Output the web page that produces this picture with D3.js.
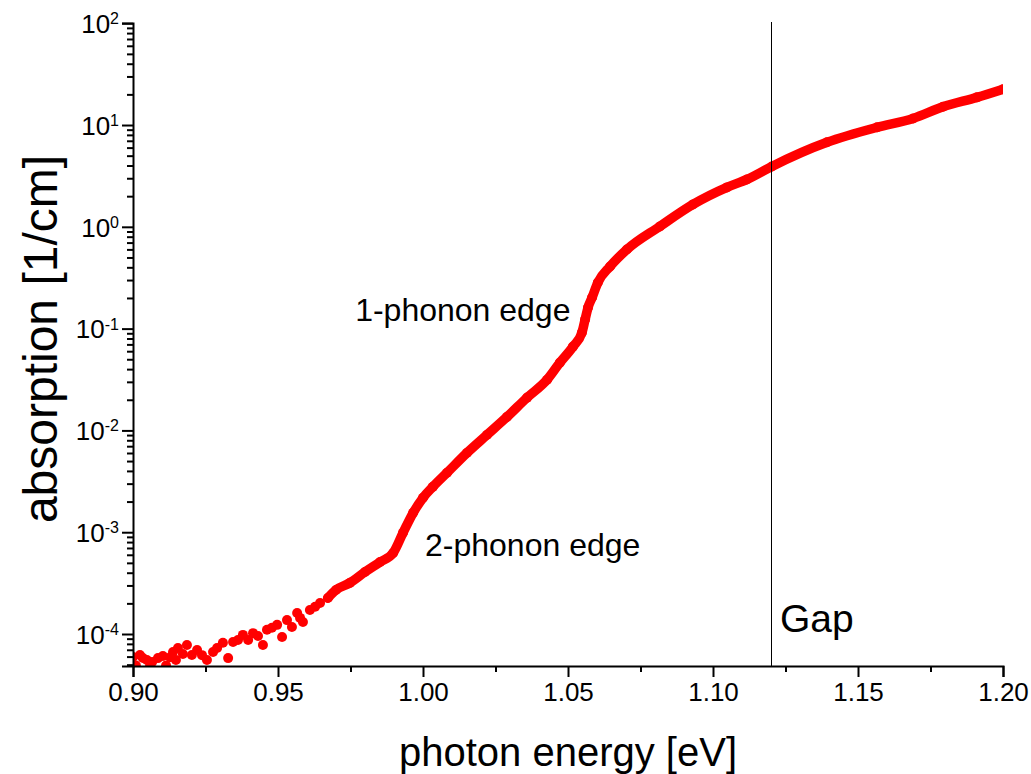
<!DOCTYPE html>
<html>
<head>
<meta charset="utf-8">
<script src="https://cdn.jsdelivr.net/npm/d3@7"></script>
<style>
  body { margin: 0; background: #fff; }
  text { font-family: "Liberation Sans", Arial, sans-serif; fill: #000; }
</style>
</head>
<body>
<script>
// photon energy [eV] and absorption [1/cm]
var energy = [
  0.9000, 0.9010, 0.9024, 0.9034, 0.9048, 0.9059, 0.9066, 0.9086, 0.9103, 0.9114,
  0.9128, 0.9138, 0.9148, 0.9155, 0.9172, 0.9186, 0.9203, 0.9221, 0.9238, 0.9255,
  0.9276, 0.9290, 0.9310, 0.9328, 0.9345, 0.9362, 0.9379, 0.9397, 0.9414, 0.9431,
  0.9448, 0.9462, 0.9479, 0.9497, 0.9514, 0.9531, 0.9548, 0.9566, 0.9576, 0.9586,
  0.9610, 0.9628, 0.9645, 0.9672, 0.9700, 0.9748, 0.9800, 0.9852, 0.9897, 0.9931,
  0.9966, 1.0000, 1.0034, 1.0083, 1.0152, 1.0221, 1.0290, 1.0359, 1.0428, 1.0472,
  1.0517, 1.0548, 1.0559, 1.0569, 1.0583, 1.0603, 1.0645, 1.0703, 1.0817, 1.0931,
  1.1048, 1.1117, 1.1203, 1.1393, 1.1566, 1.1690, 1.1793, 1.1910, 1.2000
];
var absorption = [
  5.94e-5, 4.9e-5, 6.22e-5, 5.81e-5, 5.55e-5, 4.9e-5, 5.31e-5, 5.8e-5, 6.08e-5, 4.9e-5,
  5.9e-5, 6.65e-5, 5.55e-5, 7.3e-5, 6.37e-5, 7.8e-5, 6.22e-5, 6.97e-5, 6.2e-5, 5.55e-5,
  6.65e-5, 7.3e-5, 8.2e-5, 5.8e-5, 8.35e-5, 8.73e-5, 9.8e-5, 8.73e-5, 1.02e-4, 9.55e-5,
  7.8e-5, 1.10e-4, 1.15e-4, 1.23e-4, 9.35e-5, 1.37e-4, 1.17e-4, 1.61e-4, 1.44e-4, 1.31e-4,
  1.72e-4, 1.85e-4, 2.02e-4, 2.26e-4, 2.71e-4, 3.18e-4, 4.07e-4, 5.1e-4, 6.26e-4, 9.86e-4,
  1.55e-3, 2.18e-3, 2.79e-3, 3.84e-3, 6.03e-3, 9.06e-3, 1.36e-2, 2.10e-2, 3.15e-2, 4.63e-2,
  6.65e-2, 9.14e-2, 0.123, 0.161, 0.202, 0.284, 0.408, 0.598, 1.01, 1.66,
  2.44, 2.92, 3.92, 6.76, 9.49, 11.6, 15.1, 18.7, 22.5
];

var xTicks = [0.90, 0.95, 1.00, 1.05, 1.10, 1.15, 1.20];
var xMinor = [0.925, 0.975, 1.025, 1.075, 1.125, 1.175];
var yExp = [-4, -3, -2, -1, 0, 1, 2];
var gapEnergy = 1.12;
var labels = [
  { text: "1-phonon edge", e: 0.9766, a: 0.12, size: 32 },
  { text: "2-phonon edge", e: 1.0007, a: 5.9e-4, size: 32 },
  { text: "Gap", e: 1.1231, a: 1.035e-4, size: 39 }
];

var W = 1031, H = 774;
var margin = { top: 23, right: 28, bottom: 108, left: 133 };
var w = W - margin.left - margin.right;
var h = H - margin.top - margin.bottom;

var svg = d3.select("body").append("svg")
  .attr("width", W)
  .attr("height", H);

var g = svg.append("g")
  .attr("transform", "translate(" + margin.left + "," + margin.top + ")");

var x = d3.scaleLinear().domain([0.90, 1.20]).range([0, w]);
var y = d3.scaleLog().domain([4.85e-5, 100.5]).range([h, 0]);

var data = energy.map(function(e, i) { return { e: e, a: absorption[i] }; });

svg.append("defs").append("clipPath").attr("id", "plot")
  .append("rect").attr("width", w).attr("height", h);

var plot = g.append("g").attr("clip-path", "url(#plot)");

// smooth part drawn as a thick line of overlapping dots
var smooth = data.filter(function(d) { return d.e >= 0.965; });
plot.append("path")
  .datum(smooth)
  .attr("fill", "none")
  .attr("stroke", "#ff0000")
  .attr("stroke-width", 9.5)
  .attr("stroke-linejoin", "round")
  .attr("stroke-linecap", "round")
  .attr("d", d3.line()
    .x(function(d) { return x(d.e); })
    .y(function(d) { return y(d.a); })
    .curve(d3.curveMonotoneX));

plot.selectAll("circle")
  .data(data)
  .enter()
  .append("circle")
  .attr("cx", function(d) { return x(d.e); })
  .attr("cy", function(d) { return y(d.a); })
  .attr("r", 5)
  .attr("fill", "#ff0000");

// gap line
g.append("line")
  .attr("x1", Math.round(x(gapEnergy)) + 0.5).attr("x2", Math.round(x(gapEnergy)) + 0.5)
  .attr("y1", -1).attr("y2", h)
  .attr("stroke", "#000")
  .attr("stroke-width", 1)
  .attr("shape-rendering", "crispEdges");

// x axis
var xAxis = g.append("g")
  .attr("transform", "translate(0," + h + ")")
  .call(d3.axisBottom(x).tickValues(xTicks).tickFormat(d3.format(".2f")).tickSize(11).tickPadding(6));
g.append("g")
  .attr("transform", "translate(0," + h + ")")
  .call(d3.axisBottom(x).tickValues(xMinor).tickFormat("").tickSize(6))
  .select(".domain").remove();

// y axis
var yMinor = [];
for (var k = -5; k <= 1; k++) {
  for (var m = 2; m <= 9; m++) {
    var v = m * Math.pow(10, k);
    if (v >= 4.85e-5 && v <= 100) yMinor.push(v);
  }
}
var yAxis = g.append("g")
  .call(d3.axisLeft(y).tickValues(yExp.map(function(p) { return Math.pow(10, p); }))
    .tickFormat("").tickSize(11));
g.append("g")
  .call(d3.axisLeft(y).tickValues(yMinor).tickFormat("").tickSize(6))
  .select(".domain").remove();

yAxis.selectAll(".tick").each(function(d) {
  var t = d3.select(this).append("text")
    .attr("x", -14)
    .attr("dy", "0.36em")
    .attr("text-anchor", "end")
    .attr("font-size", 26);
  t.append("tspan").text("10");
  t.append("tspan")
    .attr("dy", "-0.55em")
    .attr("font-size", 16)
    .text(Math.round(Math.log10(d)));
});

g.selectAll(".domain, .tick line")
  .attr("stroke", "#000")
  .attr("stroke-width", 2);
xAxis.selectAll(".tick text")
  .attr("font-size", 26)
  .attr("font-family", "Liberation Sans, Arial, sans-serif");

// axis titles
svg.append("text")
  .attr("x", margin.left + w / 2)
  .attr("y", 766)
  .attr("text-anchor", "middle")
  .attr("font-size", 40)
  .text("photon energy [eV]");

svg.append("text")
  .attr("transform", "translate(57,339) rotate(-90)")
  .attr("text-anchor", "middle")
  .attr("font-size", 48)
  .text("absorption [1/cm]");

// annotations
g.selectAll(".note")
  .data(labels)
  .enter()
  .append("text")
  .attr("class", "note")
  .attr("x", function(d) { return x(d.e); })
  .attr("y", function(d) { return y(d.a); })
  .attr("font-size", function(d) { return d.size; })
  .text(function(d) { return d.text; });
</script>
</body>
</html>
